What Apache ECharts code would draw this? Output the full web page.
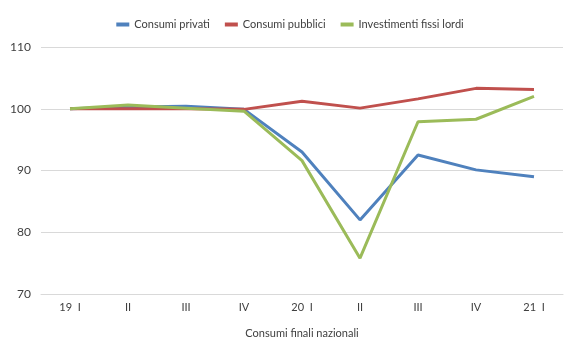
<!DOCTYPE html>
<html><head><meta charset="utf-8">
<script src="https://cdn.jsdelivr.net/npm/echarts@6/dist/echarts.min.js"></script>
<style>html,body{margin:0;padding:0;background:#fff}#c{width:580px;height:358px}</style>
</head><body><div id="c"></div>
<script>
const categories = ['19  I','II','III','IV','20  I','II','III','IV','21  I'];
const consumiPrivati = [100, 100.3, 100.4, 99.9, 93.0, 82.0, 92.5, 90.1, 89.0];
const consumiPubblici = [100, 100.0, 100.0, 99.9, 101.2, 100.1, 101.6, 103.3, 103.1];
const investimenti = [100, 100.6, 100.1, 99.6, 91.6, 75.8, 97.9, 98.3, 102.0];
const yTicks = {min: 70, max: 110, interval: 10};

const chart = echarts.init(document.getElementById('c'));
const font = 'Lato, "DejaVu Sans", sans-serif';
function s(name, data, color){
  return {name, type:'line', data, symbol:'none', smooth:false,
    lineStyle:{width:3, color}, itemStyle:{color}};
}
chart.setOption({
  animation:false,
  textStyle:{fontFamily:font},
  legend:{top:14, left:'center', itemWidth:13, itemHeight:4, itemGap:15,
    icon:'rect', textStyle:{fontFamily:font, fontSize:11, color:'#404040'}},
  grid:{left:41, right:17, top:47, bottom:64},
  xAxis:{type:'category', data:categories, boundaryGap:true,
    axisLine:{show:true, lineStyle:{color:'#d9d9d9'}}, axisTick:{show:false},
    axisLabel:{color:'#404040', fontSize:11, fontFamily:font, margin:8},
    name:'Consumi finali nazionali', nameLocation:'middle', nameGap:34,
    nameTextStyle:{color:'#404040', fontSize:11, fontFamily:font}},
  yAxis:{type:'value', min:yTicks.min, max:yTicks.max, interval:yTicks.interval,
    axisLine:{show:false}, axisTick:{show:false},
    axisLabel:{color:'#404040', fontSize:12, fontFamily:font, margin:10},
    splitLine:{lineStyle:{color:'#d9d9d9'}}},
  series:[
    s('Consumi privati', consumiPrivati, '#4F81BD'),
    s('Consumi pubblici', consumiPubblici, '#C0504D'),
    s('Investimenti fissi lordi', investimenti, '#9BBB59')
  ]
});
</script></body></html>
